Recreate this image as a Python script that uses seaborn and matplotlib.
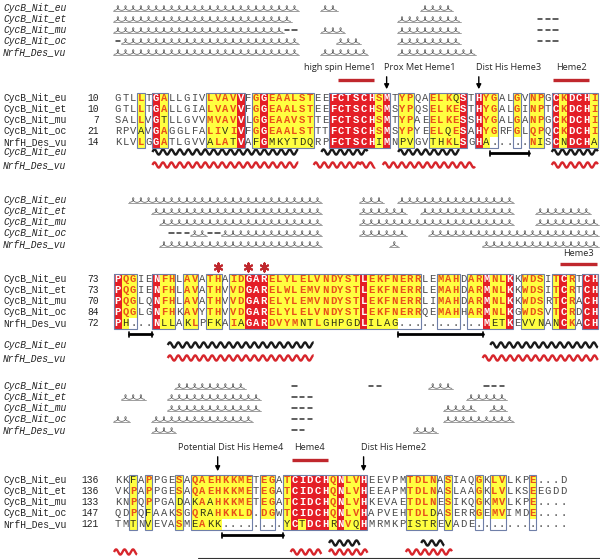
import numpy as np
import matplotlib
matplotlib.use("Agg")
import matplotlib.pyplot as plt
from matplotlib.colors import ListedColormap
from matplotlib.patches import Rectangle
from collections import Counter
import seaborn as sns

# ---------------- data ----------------
names = ["CycB_Nit_eu", "CycB_Nit_et", "CycB_Nit_mu", "CycB_Nit_oc", "NrfH_Des_vu"]
struct_names = ["CycB_Nit_eu", "NrfH_Des_vu"]

b1_start = [10, 10, 7, 21, 14]
b1_seqs = [
    "GTLLTGALLGIVLVAVVFGGEAALSTEEFCTSCHSMTYPQAELKQSTHYGALGVNPGCKDCHI",
    "GTLLTGALLGIALVAVVFGGEAALSTEEFCTSCHSMSYPQSELKESTHYGALGINPTCKDCHI",
    "SALLVGTLLGVVMVAVVLGGEAAVSTTEFCTSCHSMTYPAEELKESSHYGALGANPGCKDCHI",
    "RPVAVGAGGLFALIVIVFGGEAALSTTTFCTSCHSMSYPYEELQESAHYGRFGLQPQCKDCHI",
    "KLVLGGATLGVVALATVAFGMKYTDQRPFCTSCHIMNPVGVTHKLSGHA.....NISCNDCHA",
]
b1_cols = "...y.ry.....yyyyr.yryyyyyy..rrrrrryr.yy..yyyyr.ryy..y.yy.ryrrry"
b1_ss = [
    [("c", 0, 23), ("c", 27, 28), ("c", 40, 43)],
    [("c", 0, 22), ("c", 37, 44), ("d", 55, 57)],
    [("c", 0, 21), ("d", 22, 23), ("c", 27, 29), ("c", 37, 44), ("d", 55, 57)],
    [("d", 0, 0), ("c", 1, 23), ("c", 29, 31), ("c", 37, 44), ("d", 55, 57)],
    [("c", 0, 23), ("c", 27, 32), ("c", 37, 46)],
]
b1_helix_eu = [(5, 23), (27, 32), (37, 44), (57, 62)]
b1_helix_des = [(5, 23), (26, 31), (32, 33), (35, 46), (57, 62)]
b1_gaps = [(49, 53)]
b1_labels = ["high spin Heme1", "Prox Met Heme1", "Dist His Heme3", "Heme2"]
b1_arrows = [35, 47]
b1_bars = [(29, 33), (57, 61)]

b2_start = [73, 73, 70, 84, 72]
b2_seqs = [
    "PQGIENFHLAVATHAIDGARELYLELVNDYSTLEKFNERRLEMAHDARMNLKKWDSITCRTCH",
    "PQGIENFHLAVATHVVDGARELWLEMVNDYSTLEKFNERRLEMAHDARMNLKKWDSITCRTCH",
    "PQGLQNFHLAVATHVVDGARELYLEMVNDYSTLEKFNERRLIMAHDARMNLKKWDSRTCRACH",
    "PQGLGNFHKAVYTHVVDGARELYLELVNDYSTLEKFNERRQEMAHHARMNLKGWDSVTCRDCH",
    "PH...NLLAKLPFKAIAGARDVYMNTLGHPGDLILAG...........METKEVVNANCKACH",
]
b2_cols = "ryy..ryy.yy.yy.yyrrryyyyyyyyyyyyryyyyyyy..yyy.yyryyr.yyy.yry.rr"
b2_ss = [
    [("c", 2, 26), ("c", 32, 34), ("c", 37, 51)],
    [("c", 5, 26), ("c", 32, 37), ("c", 40, 51), ("c", 55, 61)],
    [("c", 6, 26), ("c", 32, 51), ("c", 55, 62)],
    [("d", 7, 9), ("c", 10, 11), ("d", 12, 13), ("c", 14, 26), ("c", 32, 37), ("c", 41, 62)],
    [("c", 6, 26), ("c", 36, 36), ("c", 48, 62)],
]
b2_helix_eu = [(7, 25), (49, 62)]
b2_helix_des = [(7, 25), (48, 62)]
b2_gaps = [(2, 4), (37, 47)]
b2_stars = [13, 17, 19]
b2_labels = ["Heme3"]
b2_bars = [(58, 62)]

b3_start = [136, 136, 133, 147, 121]
b3_seqs = [
    "KKFAPPGESAQAEHKKMETEGATCIDCHQNLVHEEVPMTDLNASIAQGKLVLKPE...D",
    "VKPAPPGESAQAEHKKMETEGATCIDCHQNLVHEEAPMTDLNASLAAGKLVLKSEEGDD",
    "KNPQPPGADAKAAHKKMETEGATCIDCHQNLVHKEVAETDLNESIKQGKMVLKPE....",
    "QDPQFAAKSGQRAHKKLD.DGWTCIDCHQNLVHAPVEHTDLDASERRGEMVIMDE....",
    "TMTNVEVASMEAKK........YCTDCHRNVQHMRMKPISTREVADE............",
]
b3_cols = "..y.y...y.yyyyyyyy.yy.yrrrrryryyr.....yyyy.y...y.yy...y...."
b3_ss = [
    [("c", 8, 16), ("d", 23, 23), ("d", 33, 34), ("c", 41, 43), ("d", 48, 50)],
    [("c", 1, 3), ("c", 7, 18), ("d", 23, 25), ("c", 46, 50)],
    [("c", 7, 18), ("d", 23, 25), ("c", 43, 46), ("c", 49, 50)],
    [("c", 0, 1), ("c", 5, 17), ("d", 23, 25), ("c", 43, 51)],
    [("c", 5, 7), ("d", 23, 24), ("c", 39, 41)],
]
b3_helix_eu = [(28, 31), (40, 42)]
b3_helix_des = [(0, 2), (23, 26), (28, 32), (38, 43)]
b3_gaps = [(14, 21)]
b3_labels = ["Potential Dist His Heme4", "Heme4", "Dist His Heme2"]
b3_arrows = [13, 32]
b3_bars = [(23, 27)]
b3_line_start = 11

# ---------------- style ----------------
sns.set_theme(style="white")
MONO = ["Liberation Mono", "DejaVu Sans Mono"]
SANS = ["Open Sans", "DejaVu Sans"]
plt.rcParams["font.family"] = MONO

RED = "#E41E26"
YEL = "#FFFF40"
ORANGE = "#E8501A"
DARK = "#4a4a4a"
FRAME = "#6f7fa8"
BARRED = "#C0272D"
HRED = "#D7262C"

W, H = 600, 559
X0, CW, RH = 114.0, 7.68, 11.0

fig = plt.figure(figsize=(W / 100, H / 100), dpi=100)
ax = fig.add_axes([0, 0, 1, 1])
ax.set_xlim(0, W)
ax.set_ylim(H, 0)
ax.axis("off")


def cx(c):
    return X0 + CW * (c + 0.5)


def cl(c):
    return X0 + CW * c


GROUPS = ["ILMV", "FYW", "KR", "DE", "ST", "NQ", "AG", "H", "P", "C"]


def grp(r):
    for k, g in enumerate(GROUPS):
        if r in g:
            return k
    return -1


def draw_coil(a, b, y):
    n = b - a + 1
    t = np.linspace(np.pi, np.pi + 2 * np.pi * n, 50 * n)
    x = cl(a) + CW * (t - np.pi) / (2 * np.pi) - 2.3 * np.sin(t)
    yy = y - 2.3 * np.cos(t)
    ax.plot(x, yy, color="#555555", lw=0.5)
    ax.plot([cl(a) - 1, cl(b + 1) + 1], [y + 3.0, y + 3.0], color="#777777", lw=0.5)


def draw_dash(a, b, y):
    for c in range(a, b + 1):
        ax.plot([cx(c) - 2.2, cx(c) + 2.2], [y, y], color="#333333", lw=1.1)


def draw_ss(ss, ys):
    for i, segs in enumerate(ss):
        ax.text(3, ys[i], names[i], fontsize=6.9, fontstyle="italic", va="center", ha="left", color="#222222", family=MONO)
        for kind, a, b in segs:
            if kind == "c":
                draw_coil(a, b, ys[i])
            else:
                draw_dash(a, b, ys[i])


def draw_helix(segs, y, color):
    for a, b in segs:
        x = np.linspace(cl(a), cl(b + 1), 60 * (b - a + 1))
        yy = y - 2.6 * np.sin(2 * np.pi * (x - cl(a)) / (CW * 1.1))
        ax.plot(x, yy, color=color, lw=1.7, solid_capstyle="butt")


def draw_gapbar(segs, y):
    for a, b in segs:
        ax.plot([cl(a), cl(b + 1)], [y, y], color="black", lw=2.0)
        for xe in (cl(a), cl(b + 1)):
            ax.plot([xe, xe], [y - 2.5, y + 2.5], color="black", lw=1.2)


def draw_redbar(segs, y):
    for a, b in segs:
        ax.plot([cl(a) + 1, cl(b + 1) - 1], [y, y], color=BARRED, lw=2.4, solid_capstyle="butt")


def draw_arrows(cols, y0, y1):
    for c in cols:
        ax.annotate("", xy=(cx(c), y1), xytext=(cx(c), y0),
                    arrowprops=dict(arrowstyle="-|>", color="black", lw=1.0, mutation_scale=7))


cmap = ListedColormap(["#ffffff", YEL, RED])


def seq_block(seqs, cols, starts, top):
    n = len(seqs[0])
    cols = cols.ljust(n, ".")[:n]
    seqs = [s.ljust(n, ".")[:n] for s in seqs]
    codes = np.zeros((5, n), dtype=int)
    tcolor = [[DARK] * n for _ in range(5)]
    tweight = [["normal"] * n for _ in range(5)]
    for j in range(n):
        col = [s[j] for s in seqs]
        res = [r for r in col if r != "."]
        if not res or cols[j] == ".":
            continue
        rmain = Counter(res).most_common(1)[0][0]
        gmain = Counter(grp(r) for r in res).most_common(1)[0][0]
        for i, r in enumerate(col):
            if r == ".":
                continue
            if cols[j] == "r" and r == rmain:
                codes[i, j] = 2
                tcolor[i][j] = "white"
                tweight[i][j] = "bold"
            else:
                codes[i, j] = 1
                if grp(r) == gmain:
                    tcolor[i][j] = ORANGE
                    tweight[i][j] = "bold"
                else:
                    tcolor[i][j] = "#333318"
    letters = np.array([list(s) for s in seqs])
    hax = fig.add_axes([X0 / W, 1 - (top + 5 * RH) / H, n * CW / W, 5 * RH / H])
    sns.heatmap(codes, cmap=cmap, vmin=0, vmax=2, cbar=False, annot=letters, fmt="",
                annot_kws=dict(fontsize=7.6, family=MONO), xticklabels=False,
                yticklabels=False, linewidths=0, ax=hax)
    hax.axis("off")
    for t in hax.texts:
        px, py = t.get_position()
        j, i = int(px), int(py)
        if 0 <= i < 5 and 0 <= j < n:
            t.set_color(tcolor[i][j])
            t.set_fontweight(tweight[i][j])
    j = 0
    while j < n:
        if cols[j] != ".":
            k = j
            while k + 1 < n and cols[k + 1] != ".":
                k += 1
            hax.add_patch(Rectangle((j, 0), k - j + 1, 5, fill=False, edgecolor=FRAME,
                                    lw=0.8, clip_on=False))
            j = k + 1
        else:
            j += 1
    for i in range(5):
        y = top + RH * (i + 0.5)
        ax.text(3, y, names[i], fontsize=6.9, va="center", ha="left", color="#222222", family=MONO)
        ax.text(99, y, str(starts[i]), fontsize=6.9, va="center", ha="right", color="#222222", family=MONO)


def struct_rows(eu, des, y_eu, y_des, labels=True):
    if labels:
        ax.text(3, y_eu, struct_names[0], fontsize=6.9, fontstyle="italic", va="center", color="#222222", family=MONO)
        ax.text(3, y_des, struct_names[1], fontsize=6.9, fontstyle="italic", va="center", color="#222222", family=MONO)
    draw_helix(eu, y_eu, "#1a1a1a")
    draw_helix(des, y_des, HRED)


# ---------------- block 1 ----------------
ss1_y = [8, 19, 30, 41, 52]
draw_ss(b1_ss, ss1_y)
ax.text(304, 68, b1_labels[0], fontsize=6.6, family=SANS, va="center", ha="left")
ax.text(cx(b1_arrows[0]) - 3, 68, b1_labels[1], fontsize=6.6, family=SANS, va="center", ha="left")
ax.text(cx(b1_arrows[1]) - 3, 68, b1_labels[2], fontsize=6.6, family=SANS, va="center", ha="left")
ax.text((cl(b1_bars[1][0]) + cl(b1_bars[1][1] + 1)) / 2, 68, b1_labels[3], fontsize=6.6, family=SANS, va="center", ha="center")
draw_redbar(b1_bars, 80)
draw_arrows(b1_arrows, 74, 92)
seq_block(b1_seqs, b1_cols, b1_start, 92.5)
draw_gapbar(b1_gaps, 153)
struct_rows(b1_helix_eu, b1_helix_des, 152, 165)

# ---------------- block 2 ----------------
ss2_y = [200, 211, 222, 233, 244]
draw_ss(b2_ss, ss2_y)
ax.text((cl(b2_bars[0][0]) + cl(b2_bars[0][1] + 1)) / 2, 254, b2_labels[0], fontsize=6.6, family=SANS, va="center", ha="center")
draw_redbar(b2_bars, 264)
ax.scatter([cx(c) for c in b2_stars], [267] * len(b2_stars), marker=(6, 2, 0), s=34,
           color=BARRED, linewidths=1.5)
seq_block(b2_seqs, b2_cols, b2_start, 273.5)
draw_gapbar(b2_gaps, 334)
struct_rows(b2_helix_eu, b2_helix_des, 345, 358)

# ---------------- block 3 ----------------
ss3_y = [386, 397, 408, 419, 430]
draw_ss(b3_ss, ss3_y)
ax.text(178, 448, b3_labels[0], fontsize=6.6, family=SANS, va="center", ha="left")
ax.text((cl(b3_bars[0][0]) + cl(b3_bars[0][1] + 1)) / 2, 448, b3_labels[1], fontsize=6.6, family=SANS, va="center", ha="center")
ax.text(cx(b3_arrows[1]) - 3, 448, b3_labels[2], fontsize=6.6, family=SANS, va="center", ha="left")
draw_redbar(b3_bars, 460)
draw_arrows(b3_arrows, 454, 474)
seq_block(b3_seqs, b3_cols, b3_start, 474.5)
draw_gapbar(b3_gaps, 535)
struct_rows(b3_helix_eu, b3_helix_des, 543, 552, labels=False)
ax.plot([cl(b3_line_start), W], [558, 558], color="#333333", lw=0.8)

fig.savefig("out.png", dpi=100)
